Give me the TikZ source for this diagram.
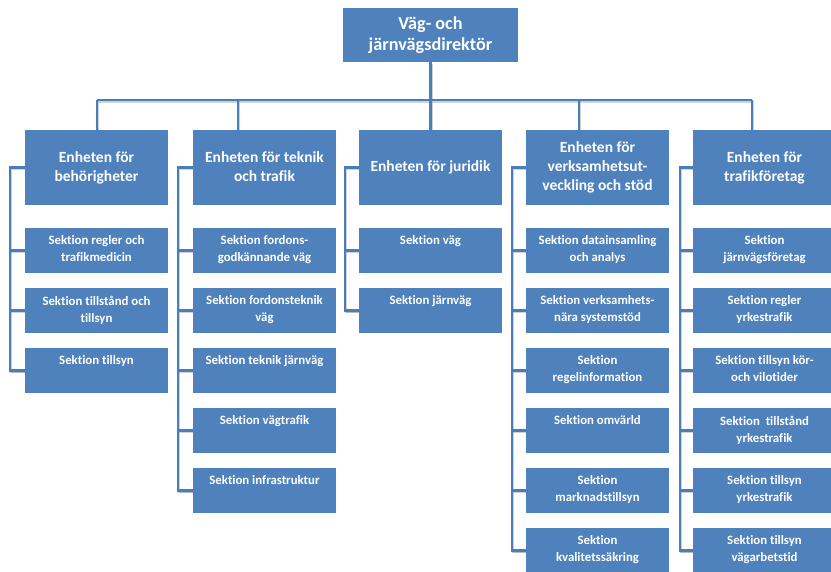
\documentclass[tikz,border=0pt]{standalone}
\usepackage{fontspec}
\setmainfont{Carlito}[Ligatures=NoCommon]
\usetikzlibrary{calc}
\definecolor{boxblue}{RGB}{79,129,189}
\definecolor{lineblue}{RGB}{74,126,187}
\pgfdeclarelayer{background}
\pgfsetlayers{background,main}
\newcommand{\sektext}[1]{\parbox[c][45pt][t]{143pt}{\centering\vspace{8pt}#1\par}}

\tikzset{
  ruta/.style={fill=boxblue, text=white, inner sep=0pt, align=center},
  chef/.style={ruta, minimum width=175pt, minimum height=54pt,
    font=\fontsize{18.2}{20.5}\selectfont\bfseries},
  enhet/.style={ruta, minimum width=143pt, minimum height=75pt,
    text depth=2pt, font=\fontsize{15.5}{19}\selectfont\bfseries},
  sektion/.style={ruta, minimum width=143pt, minimum height=45pt,
    font=\fontsize{12.8}{17}\selectfont\bfseries},
  linje/.style={draw=lineblue, line width=2.5pt,
    preaction={draw=black!40, opacity=.45, line width=2.5pt,
      transform canvas={shift={(1pt,-1.5pt)}}}}
}

\begin{document}
\begin{tikzpicture}[x=1pt,y=-1pt]
  \useasboundingbox (0,0) rectangle (831,572);
  \clip (0,0) rectangle (831,572);

  % direktor and units
  \node[chef] (dir) at (430.5,35) {Väg- och\\järnvägsdirektör};
  \node[enhet] (e1) at (96.5,167.5) {Enheten för\\behörigheter};
  \node[enhet] (e2) at (264.5,167.5) {Enheten för teknik\\och trafik};
  \node[enhet] (e3) at (430.5,167.5) {Enheten för juridik};
  \node[enhet] (e4) at (597.5,167.5) {Enheten för\\verksamhetsut-\\veckling och stöd};
  \node[enhet] (e5) at (764.5,167.5) {Enheten för\\trafikföretag};

  % sections
  \foreach \t [count=\i] in {{Sektion regler och\\trafikmedicin},
      {Sektion tillstånd och\\tillsyn},{Sektion tillsyn}}
    \node[sektion] (s1-\i) at (96.5,{190.5+60*\i}) {\sektext{\t}};
  \foreach \t [count=\i] in {{Sektion fordons-\\godkännande väg},
      {Sektion fordonsteknik\\väg},{Sektion teknik järnväg},
      {Sektion vägtrafik},{Sektion infrastruktur}}
    \node[sektion] (s2-\i) at (264.5,{190.5+60*\i}) {\sektext{\t}};
  \foreach \t [count=\i] in {{Sektion väg},{Sektion järnväg}}
    \node[sektion] (s3-\i) at (430.5,{190.5+60*\i}) {\sektext{\t}};
  \foreach \t [count=\i] in {{Sektion datainsamling\\och analys},
      {Sektion verksamhets-\\nära systemstöd},{Sektion\\regelinformation},
      {Sektion omvärld},{Sektion\\marknadstillsyn},{Sektion\\kvalitetssäkring}}
    \node[sektion] (s4-\i) at (597.5,{190.5+60*\i}) {\sektext{\t}};
  \foreach \t [count=\i] in {{Sektion\\järnvägsföretag},
      {Sektion regler\\yrkestrafik},{Sektion tillsyn kör-\\och vilotider},
      {Sektion\ \ tillstånd\\yrkestrafik},{Sektion tillsyn\\yrkestrafik},
      {Sektion tillsyn\\vägarbetstid}}
    \node[sektion] (s5-\i) at (764.5,{190.5+60*\i}) {\sektext{\t}};

  % bus and bracket points
  \coordinate (b1) at (97,100);
  \coordinate (b2) at (238,100);
  \coordinate (b3) at (430.5,100);
  \coordinate (b4) at (579,100);
  \coordinate (b5) at (752,100);
  \coordinate (k1) at (10,0);
  \coordinate (k2) at (178,0);
  \coordinate (k3) at (345,0);
  \coordinate (k4) at (512,0);
  \coordinate (k5) at (680,0);

  \begin{pgfonlayer}{background}
    \draw[linje] (dir.south) -- (b3);
    \draw[linje] (b1) -- (b5);
    \foreach \i in {1,...,5}
      \draw[linje] (b\i) -- (b\i |- e\i.north);
    % brackets
    \foreach \c/\n in {1/3,2/5,3/2,4/6,5/6}{
      \draw[linje] (e\c.west) -- (e\c.west -| k\c) -- (s\c-\n.west -| k\c) -- (s\c-\n.west);
      \foreach \i in {1,...,\n}
        \draw[linje] (s\c-\i.west -| k\c) -- (s\c-\i.west);
    }
  \end{pgfonlayer}
\end{tikzpicture}
\end{document}
